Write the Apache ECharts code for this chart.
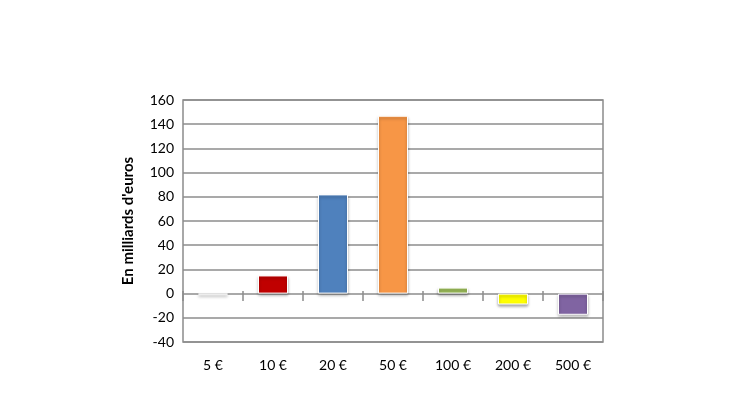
<!DOCTYPE html><html><head><meta charset="utf-8"><script src="https://cdn.jsdelivr.net/npm/echarts@6/dist/echarts.min.js"></script></head><body style="margin:0"><div id="c" style="width:730px;height:410px"></div><script>
const categories=['5 €','10 €','20 €','50 €','100 €','200 €','500 €'];
const values=[-0.8,15,82,147,5,-9,-17.5];
const colors=['#a6a6a6','#c00000','#4f81bd','#f79646','#9bbb59','#ffff00','#8064a2'];
const c=echarts.init(document.getElementById('c'));
c.setOption({animation:false,textStyle:{fontFamily:'Lato'},
grid:{left:183,right:127,top:100,bottom:68,show:true,borderColor:'#8c8c8c',borderWidth:1.5},
xAxis:[{type:'category',data:categories,position:'bottom',axisLine:{show:false},axisTick:{show:false},axisLabel:{color:'#000',fontSize:14,margin:16}},
{type:'category',data:categories,position:'bottom',offset:-51,axisLine:{show:false},axisTick:{show:true,length:10,inside:false,lineStyle:{color:'#8c8c8c',width:1.5}},axisLabel:{show:false}}],
yAxis:{type:'value',min:-40,max:160,interval:20,axisLine:{show:false},axisTick:{show:false},splitLine:{lineStyle:{color:'#8c8c8c',width:1.5}},axisLabel:{color:'#000',fontSize:14,margin:9},
name:"En milliards d'euros",nameLocation:'middle',nameGap:47,nameTextStyle:{fontWeight:'bold',fontSize:15,color:'#000'}},
series:[{type:'bar',barWidth:'50%',data:values.map((v,i)=>({value:v,itemStyle:{color:colors[i]}})),itemStyle:{borderColor:'#fff',borderWidth:1,shadowColor:'rgba(0,0,0,0.35)',shadowBlur:3,shadowOffsetY:2}}]});
</script></body></html>
